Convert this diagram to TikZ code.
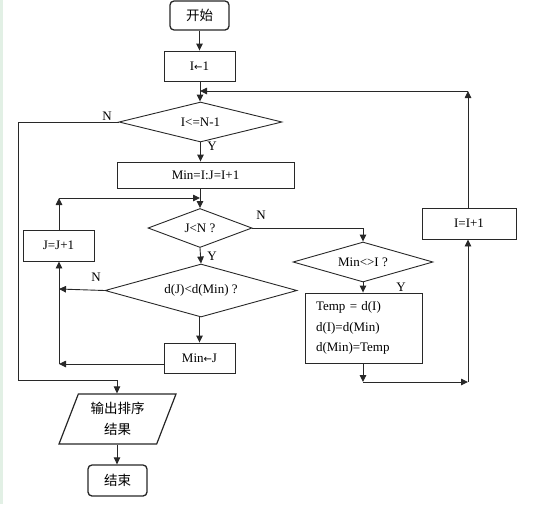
\documentclass[tikz,border=0pt]{standalone}
\usepackage{fontspec}
\setmainfont{Liberation Serif}
\newfontfamily\cjk{Noto Sans CJK SC}
\newfontfamily\symf{DejaVu Sans}
\usetikzlibrary{shapes.geometric,arrows.meta}
\definecolor{ln}{RGB}{40,40,40}
\definecolor{strip}{RGB}{226,240,229}
\tikzset{
  base/.style={draw=ln,line width=0.9pt,inner sep=0pt,font=\fontsize{13}{15}\selectfont},
  procbox/.style={base,rectangle},
  termbox/.style={base,rectangle,rounded corners=4pt,line width=1.3pt,draw=black!85,font=\cjk\fontsize{13.5}{16}\selectfont},
  decbox/.style={base,diamond},
  iobox/.style={base,trapezium,trapezium left angle=60,trapezium right angle=120,trapezium stretches body,line width=1.2pt,draw=black!85,font=\cjk\fontsize{13.5}{21}\selectfont,align=center},
  conn/.style={draw=ln,line width=0.9pt},
  arr/.style={conn,-{Triangle[length=7pt,width=6.5pt]}},
  lab/.style={font=\fontsize{13}{15}\selectfont,inner sep=0pt}
}
\begin{document}
\begin{tikzpicture}[x=1pt,y=-1pt]
\useasboundingbox (0,0) rectangle (553,504);
\fill[strip] (0,0) rectangle (3,504);
% nodes
\node[termbox,minimum width=59pt,minimum height=29pt] (start) at (199.5,15.5) {开始};
\node[procbox,minimum width=71pt,minimum height=30pt] (init) at (199.5,66) {I{\symf\fontsize{10}{10}\selectfont ←}1};
\node[decbox,minimum width=163pt,minimum height=40pt,shape aspect=4] (d1) at (200.5,122) {I<=N-1};
\node[procbox,minimum width=177pt,minimum height=26pt] (minbox) at (205.5,175) {Min=I:J=I+1};
\node[decbox,minimum width=104pt,minimum height=39pt,shape aspect=2.7] (d2) at (200,228) {J<N ?};
\node[procbox,minimum width=71pt,minimum height=31pt] (jbox) at (58.5,245.5) {J=J+1};
\node[decbox,minimum width=192pt,minimum height=53pt,shape aspect=3.6] (d3) at (201,290.5) {d(J)<d(Min) ?};
\node[procbox,minimum width=71pt,minimum height=30pt] (minj) at (199.5,358) {Min{\symf\fontsize{10}{10}\selectfont ←}J};
\node[decbox,minimum width=140pt,minimum height=40pt,shape aspect=3.5] (d4) at (363,262) {Min<>I ?};
\node[procbox,minimum width=117pt,minimum height=70pt,text width=95pt,align=left,font=\fontsize{13}{20.5}\selectfont] (temp) at (363.5,328) {Temp = d(I)\\d(I)=d(Min)\\d(Min)=Temp};
\node[procbox,minimum width=94pt,minimum height=31pt] (ibox) at (469,223.5) {I=I+1};
\node[iobox,minimum width=117pt,minimum height=50pt] (out) at (117.5,419) {输出排序\\结果};
\node[termbox,minimum width=59pt,minimum height=31pt] (end) at (117.5,480.5) {结束};
% helper coordinates
\coordinate (m1) at (200,91);
\coordinate (r1) at (468,91);
\coordinate (m2) at (200,198);
\coordinate (l2) at (59,198);
\coordinate (ln) at (59,289);
\coordinate (lm) at (59,364);
\coordinate (b1) at (18,122);
\coordinate (b2) at (18,380);
\coordinate (b3) at (117,380);
\coordinate (rn) at (363,228);
\coordinate (tb) at (363,382);
\coordinate (rb) at (468,382);
% connectors
\draw[arr] (start) -- (init);
\draw[arr] (init.south -| m1) -- (d1.north -| m1);
\draw[arr] (d1.south) -- (d1.south |- minbox.north);
\draw[conn] (minbox.south -| m2) -- (m2);
\draw[arr] (m2) -- (d2.north);
\draw[arr] (jbox.north -| l2) -- (l2);
\draw[arr] (l2) -- (m2);
\draw[arr] (d2.south) -- (d3.north);
\draw[arr] (d3.south -| minj.north) -- (minj.north);
\draw[arr] (minj.west |- lm) -- (lm);
\draw[arr] (lm) -- (jbox.south -| lm);
\draw[arr] (d3.west) -- (ln);
\draw[arr] (d1.west) -- (b1) -- (b2) -- (b3) -- (out.north -| b3);
\draw[arr] (d2.east) -- (rn) -- (d4.north);
\draw[arr] (d4.south) -- (temp.north -| d4.south);
\draw[arr] (temp.south -| tb) -- (tb);
\draw[arr] (tb) -- (rb);
\draw[arr] (rb) -- (ibox.south -| rb);
\draw[arr] (ibox.north -| r1) -- (r1);
\draw[arr] (r1) -- (m1);
\draw[arr] (out.south -| b3) -- (end.north -| b3);
% labels
\node[lab] (n1) at (107,116) {N};
\node[lab] (y1) at (212,146) {Y};
\node[lab] (n2) at (261,215) {N};
\node[lab] (y2) at (212,256) {Y};
\node[lab] (n3) at (96,277) {N};
\node[lab] (y4) at (401,287) {Y};
\end{tikzpicture}
\end{document}
